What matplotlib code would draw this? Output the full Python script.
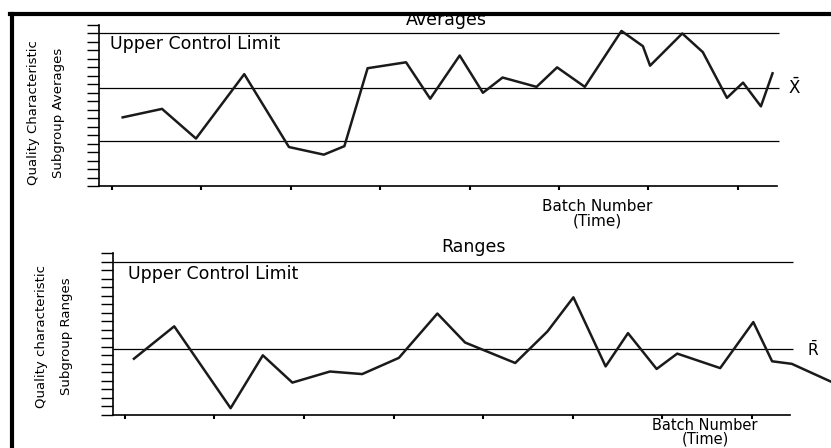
import matplotlib.pyplot as plt
from matplotlib.lines import Line2D

# subgroup averages (x = batch position, y = average)
avg_x = [1.2, 5.6, 9.4, 14.8, 19.8, 23.7, 26.0, 28.6, 32.9, 35.6, 38.9, 41.5, 43.7,
         47.5, 49.8, 52.9, 57.0, 59.4, 60.2, 63.8, 66.1, 68.8, 70.6, 72.6, 73.9]
avg_y = [8.1, 9.1, 5.6, 13.2, 4.6, 3.7, 4.7, 13.9, 14.6, 10.3, 15.4, 11.0, 12.8,
         11.7, 14.0, 11.7, 18.3, 16.5, 14.2, 18.0, 15.8, 10.4, 12.2, 9.4, 13.3]
avg_ucl = 18.0
avg_center = 11.6
avg_lcl = 5.3

# subgroup ranges
rng_x = [1.0, 5.5, 11.8, 15.4, 18.7, 22.9, 26.5, 30.6, 34.9, 38.0, 43.6,
         47.2, 50.1, 53.7, 56.2, 59.4, 61.7, 66.5, 70.2, 72.3, 74.5, 78.9]
rng_y = [6.6, 10.4, 0.8, 7.0, 3.8, 5.1, 4.8, 6.7, 11.9, 8.5, 6.1,
         9.8, 13.8, 5.7, 9.6, 5.4, 7.2, 5.5, 10.9, 6.3, 6.0, 3.9]
rng_ucl = 17.9
rng_center = 7.7

x_ticks = [0, 10, 20, 30, 40, 50, 60, 70]
y_ticks = list(range(20))

W, H = 831, 448
fig = plt.figure(figsize=(W / 100, H / 100), dpi=100)
fig.patch.set_facecolor('white')

FONT = 'DejaVu Sans'


def px_axes(left, top, right, bottom):
    return fig.add_axes([left / W, 1 - bottom / H, (right - left) / W, (bottom - top) / H])


def style(ax, xmin, xmax):
    ax.set_xlim(xmin, xmax)
    ax.set_ylim(0, 19)
    ax.set_xticks(x_ticks)
    ax.set_yticks(y_ticks)
    ax.set_xticklabels([])
    ax.set_yticklabels([])
    ax.tick_params(axis='x', direction='out', length=3, width=1.5, color='black')
    ax.tick_params(axis='y', direction='out', length=8.5, width=1.0, color='black')
    for s in ('top', 'right'):
        ax.spines[s].set_visible(False)
    for s in ('left', 'bottom'):
        ax.spines[s].set_linewidth(1.2)
        ax.spines[s].set_color('black')
    ax.patch.set_alpha(0)


# averages chart
ax1 = px_axes(99, 25, 777, 186)
style(ax1, -1.45, 74.4)
ax1.hlines([avg_ucl, avg_center, avg_lcl], -1.45, 74.6, color='black', lw=0.9, clip_on=False)
ax1.plot(avg_x, avg_y, color='#1a1a1a', lw=1.8)
ax1.text(-0.2, 16.8, 'Upper Control Limit', ha='left', va='center', fontsize=12.5, family=FONT)
ax1.text(37.4, 19.6, 'Averages', ha='center', va='center', fontsize=12.5, family=FONT)
ax1.text(54.3, -3.25, 'Batch Number\n(Time)', ha='center', va='center', fontsize=11,
         family=FONT, linespacing=0.95)
ax1.text(76.4, avg_center, r'$\bar{\mathrm{X}}$', ha='center', va='center', fontsize=12)

# ranges chart
ax2 = px_axes(113, 253, 790, 415)
style(ax2, -1.34, 74.3)
ax2.hlines([rng_ucl, rng_center], -1.34, 74.6, color='black', lw=0.9, clip_on=False)
ax2.plot(rng_x, rng_y, color='#1a1a1a', lw=1.8, clip_on=False)
ax2.text(0.3, 16.5, 'Upper Control Limit', ha='left', va='center', fontsize=12.5, family=FONT)
ax2.text(38.9, 19.7, 'Ranges', ha='center', va='center', fontsize=12.5, family=FONT)
ax2.text(64.8, -2.0, 'Batch Number\n(Time)', ha='center', va='center', fontsize=10.5,
         family=FONT, linespacing=0.85)
ax2.text(76.9, rng_center, r'$\bar{\mathrm{R}}$', ha='center', va='center', fontsize=11)

# rotated axis titles
fig.text(46 / W, 1 - 113 / H, 'Quality Characteristic\nSubgroup Averages', rotation=90,
         ha='center', va='center', fontsize=9.5, family=FONT, linespacing=2.2)
fig.text(54 / W, 1 - 336 / H, 'Quality characteristic\nSubgroup Ranges', rotation=90,
         ha='center', va='center', fontsize=9.5, family=FONT, linespacing=2.2)

# frame along the top and left edge
fig.add_artist(Line2D([10 / W, 1], [1 - 14 / H, 1 - 14 / H], color='black', lw=3,
                      transform=fig.transFigure))
fig.add_artist(Line2D([12 / W, 12 / W], [1 - 14 / H, 0], color='black', lw=3,
                      transform=fig.transFigure))

fig.savefig('out.png', dpi=100)
